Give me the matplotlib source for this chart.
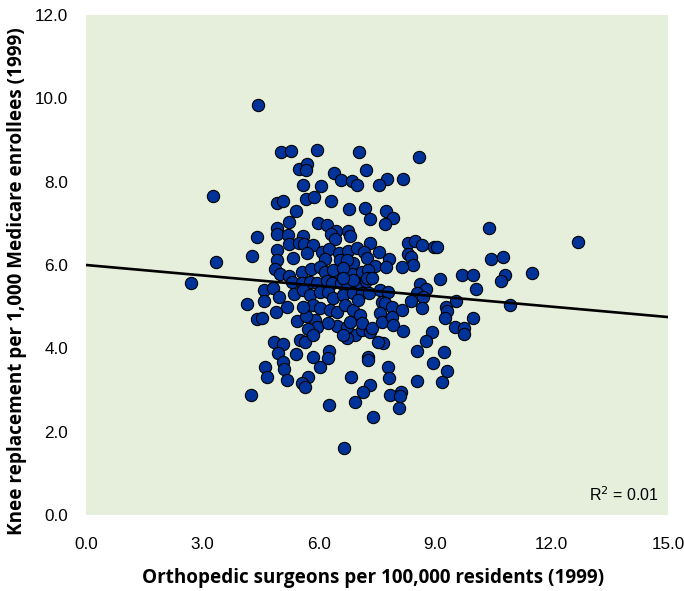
import numpy as np
import matplotlib
matplotlib.use("Agg")
import matplotlib.pyplot as plt

# orthopedic surgeons per 100,000 (x) and knee replacements per 1,000 (y)
surgeons = [
    4.43, 3.27, 3.35, 2.71, 4.25, 6.65, 12.68, 4.28, 4.41,
    5.03, 5.28, 5.95, 7.04, 5.49, 5.70, 5.67, 6.39, 6.57, 6.86, 6.98, 5.59, 6.06,
    4.92, 5.08, 5.67, 5.88, 6.31, 6.78, 5.41, 5.23, 4.92, 4.92, 5.21, 5.59, 5.98,
    6.21, 6.44, 6.31, 6.75, 6.80, 5.23, 5.49, 5.62, 5.85, 6.42, 4.92, 5.70, 6.08,
    6.26, 6.52, 6.75, 6.98, 4.92, 5.33, 6.16, 6.55, 6.88, 6.73,
    8.58, 7.22, 7.76, 7.55, 8.17, 7.19, 7.73, 7.91, 7.32, 7.71, 10.39, 10.44, 10.75,
    8.30, 8.48, 8.66, 8.97, 9.05, 8.30, 8.38, 8.43, 7.81, 7.55, 7.32, 7.16, 7.24,
    7.45, 7.73, 8.14,
    4.87, 5.00, 5.23, 5.31, 4.59, 4.82, 4.97, 4.59, 4.15, 5.36, 5.18, 4.90, 4.41,
    4.54, 5.44, 6.93, 6.73, 4.85, 5.08, 5.52, 5.64, 4.95, 5.41, 5.85, 6.26, 6.24,
    5.08, 4.61, 6.03, 5.10,
    4.66, 5.18, 5.72, 5.57, 5.64, 6.26, 6.83, 6.93,
    5.57, 5.80, 6.03, 6.16, 6.47, 6.68, 6.86, 7.11, 7.27,
    5.57, 5.77, 5.95, 6.21, 6.34, 6.57, 6.73, 7.01, 7.22,
    5.59, 5.77, 6.03, 6.24, 6.37, 6.62, 6.88, 7.11, 7.29,
    5.85, 6.03, 6.29, 6.47, 6.68, 6.88, 7.06,
    5.90, 5.95, 5.72, 6.47, 6.73, 5.67, 7.11, 5.85, 5.59,
    6.37, 6.62, 6.88, 6.62, 7.24, 7.37, 7.01, 7.11, 6.80, 6.24, 7.32, 6.62,
    7.58, 7.78, 7.63, 7.71, 7.89, 9.12, 7.37, 7.58, 7.63, 7.89, 7.91, 7.65, 7.53,
    9.69, 9.97, 10.80, 10.70, 11.50, 10.05, 9.54, 9.28, 9.30, 9.25, 9.97, 10.93,
    9.51, 9.74, 9.74, 8.92, 8.76, 8.53, 9.23, 8.94, 9.30, 8.53, 9.18, 7.78, 7.81,
    7.32, 7.14, 8.12, 7.84, 8.09, 8.07, 7.40, 7.27, 7.27, 8.17,
    8.60, 8.76, 8.53, 8.69, 8.38, 8.66, 8.14,
]
knee = [
    9.84, 7.66, 6.07, 5.57, 2.88, 1.61, 6.55, 6.22, 6.67,
    8.71, 8.74, 8.76, 8.72, 8.30, 8.42, 8.28, 8.21, 8.04, 8.02, 7.92, 7.92, 7.90,
    7.49, 7.54, 7.58, 7.63, 7.54, 7.34, 7.30, 7.03, 6.89, 6.74, 6.72, 6.70, 7.00,
    6.96, 6.82, 6.74, 6.82, 6.70, 6.50, 6.53, 6.50, 6.48, 6.62, 6.36, 6.29, 6.31,
    6.38, 6.29, 6.34, 6.41, 6.12, 6.17, 6.14, 6.12, 6.05, 6.12,
    8.59, 8.28, 8.06, 7.92, 8.06, 7.37, 7.30, 7.13, 7.10, 6.98, 6.89, 6.14, 6.19,
    6.53, 6.58, 6.48, 6.43, 6.43, 6.26, 6.19, 6.00, 6.14, 6.31, 6.53, 6.31, 6.17,
    5.98, 5.95, 5.95,
    5.90, 5.78, 5.73, 5.59, 5.40, 5.45, 5.23, 5.14, 5.06, 5.30, 4.99, 4.87, 4.70,
    4.73, 4.66, 4.32, 4.25, 4.15, 4.10, 4.20, 4.15, 3.89, 3.86, 3.79, 3.94, 3.77,
    3.67, 3.55, 3.55, 3.50,
    3.31, 3.24, 3.31, 3.17, 3.07, 2.64, 3.31, 2.71,
    5.83, 5.90, 5.95, 5.83, 5.83, 5.78, 5.78, 5.83, 5.88,
    5.57, 5.59, 5.57, 5.62, 5.57, 5.57, 5.57, 5.57, 5.62,
    5.40, 5.28, 5.35, 5.35, 5.21, 5.28, 5.33, 5.33, 5.33,
    5.04, 4.97, 4.92, 4.87, 5.04, 4.92, 4.80,
    4.68, 4.51, 4.46, 4.54, 4.51, 4.78, 4.44, 4.32, 4.99,
    5.88, 5.93, 5.64, 5.69, 5.69, 5.69, 5.16, 4.61, 4.63, 4.61, 4.39, 4.32,
    5.40, 5.35, 5.11, 5.09, 4.99, 5.67, 4.49, 4.85, 4.63, 4.75, 4.56, 4.13, 4.15,
    5.76, 5.76, 5.76, 5.62, 5.81, 5.42, 5.14, 4.99, 4.90, 4.73, 4.73, 5.04,
    4.51, 4.49, 4.34, 4.40, 4.18, 3.94, 3.91, 3.65, 3.46, 3.22, 3.19, 3.55, 3.29,
    3.12, 2.95, 2.95, 2.88, 2.86, 2.57, 2.35, 3.79, 3.72, 4.42,
    5.54, 5.42, 5.33, 5.23, 5.14, 4.97, 4.92,
]

# fitted line as drawn on the chart
intercept = 6.0
slope = -0.0833
r2_label = "R$^2$ = 0.01"

ticks_x = [0, 3, 6, 9, 12, 15]
ticks_y = [0, 2, 4, 6, 8, 10, 12]

plt.rcParams['font.family'] = ['Liberation Sans', 'DejaVu Sans']

fig = plt.figure(figsize=(6.84, 5.91), dpi=100)
ax = fig.add_axes([0.1257, 0.1286, 0.851, 0.846])
ax.set_facecolor('#e5efdc')

ax.scatter(surgeons, knee, s=78, c='#003399', edgecolors='black',
           linewidths=0.8, zorder=3)

line_x = np.array([0, 15])
ax.plot(line_x, intercept + slope * line_x, color='black', lw=1.9, zorder=4)

ax.set_xlim(0, 15)
ax.set_ylim(0, 12)
ax.set_xticks(ticks_x)
ax.set_yticks(ticks_y)
ax.set_xticklabels([f"{t:.1f}" for t in ticks_x], fontsize=12.3)
ax.set_yticklabels([f"{t:.1f}" for t in ticks_y], fontsize=12.3)
ax.tick_params(length=0)
ax.tick_params(axis='x', pad=16)
ax.tick_params(axis='y', pad=13)
for s in ax.spines.values():
    s.set_visible(False)

label_font = dict(fontsize=13.6, fontweight='bold', family=['Open Sans', 'DejaVu Sans'])
fig.text(373 / 684, 1 - 578 / 591, "Orthopedic surgeons per 100,000 residents (1999)",
         ha='center', va='center', **label_font)
fig.text(17 / 684, 1 - 281 / 591, "Knee replacement per 1,000 Medicare enrollees (1999)",
         ha='center', va='center', rotation=90, **label_font)

ax.text(0.985, 0.04, r2_label, transform=ax.transAxes, ha='right', va='center',
        fontsize=11.5)

fig.savefig("out.png", dpi=100)
